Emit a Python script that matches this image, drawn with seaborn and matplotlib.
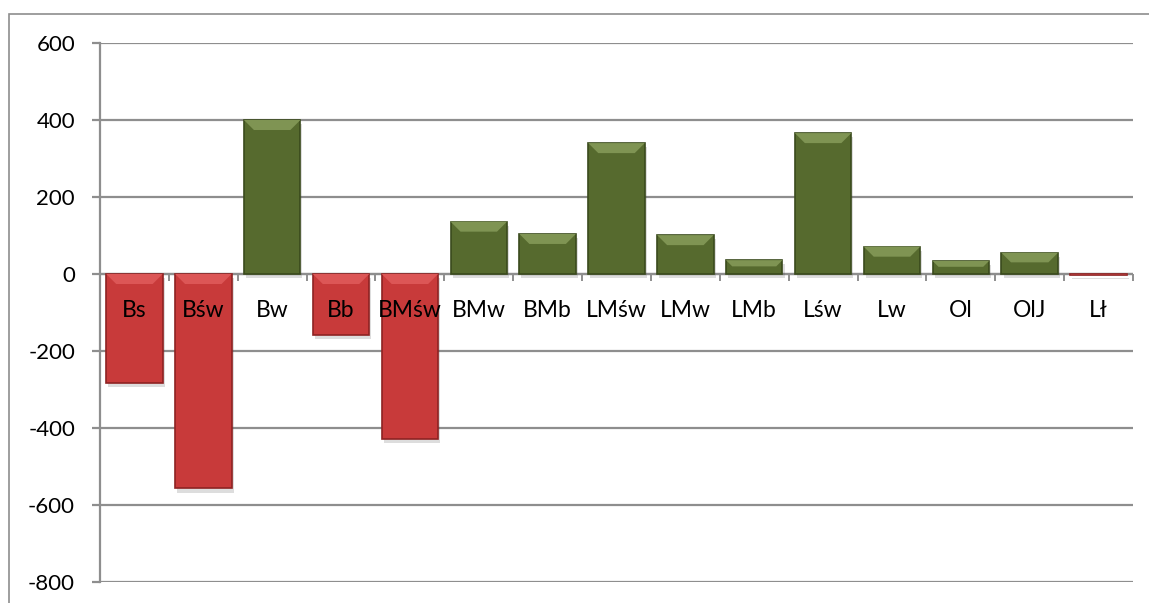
import matplotlib
matplotlib.use("Agg")
import matplotlib.pyplot as plt
import matplotlib.patheffects as pe
from matplotlib.patches import Polygon, Rectangle
from matplotlib.ticker import FixedLocator
import seaborn as sns
import pandas as pd
import numpy as np

categories = ["Bs", "Bśw", "Bw", "Bb", "BMśw", "BMw", "BMb", "LMśw",
              "LMw", "LMb", "Lśw", "Lw", "Ol", "OlJ", "Lł"]
values = [-283, -557, 400, -159, -429, 136, 104, 340, 101, 36, 366, 71, 34, 55, -2]
y_ticks = [-800, -600, -400, -200, 0, 200, 400, 600]

sns.set_theme(style="white")
plt.rcParams['font.family'] = ['Lato', 'DejaVu Sans']

df = pd.DataFrame({"cat": categories, "val": values})
df["sign"] = np.where(df["val"] < 0, "neg", "pos")

W, H = 1149, 603
fig = plt.figure(figsize=(W / 100, H / 100), dpi=100)
ax = fig.add_axes([100 / W, 21 / H, (1133 - 100) / W, (582 - 43) / H])

green = "#566A2E"
red = "#C83A3A"
sns.barplot(data=df, x="cat", y="val", hue="sign", order=categories,
            palette={"neg": red, "pos": green}, dodge=False, legend=False,
            width=0.82, ax=ax, zorder=2, linewidth=1.2, saturation=1)

ax.set_ylim(-800, 600)
ax.set_xlim(-0.5, len(categories) - 0.5)
ax.set_xlabel("")
ax.set_ylabel("")

gray = "#8E8E8E"
for t in y_ticks:
    ax.axhline(t, color=gray, lw=1.6, zorder=0)

ypx = (582 - 43) / 1400.0
xpx = (1133 - 100) / len(categories)
for p in list(ax.patches):
    fc = p.get_facecolor()
    is_green = fc[1] > fc[0]
    edge = "#3A4A1C" if is_green else "#8E2222"
    p.set_edgecolor(edge)
    p.set_path_effects([pe.SimplePatchShadow(offset=(1.5, -3), alpha=0.18, shadow_rgbFace="#444444"),
                        pe.Normal()])
    x, y, w, h = p.get_x(), p.get_y(), p.get_width(), p.get_height()
    top = max(y, y + h)
    hh = abs(h)
    b = min(26.0, hh * 0.45)
    dx = b * ypx / xpx
    light = "#7F9453" if is_green else "#DC5656"
    bev = Polygon([(x, top), (x + w, top), (x + w - dx, top - b), (x + dx, top - b)],
                  closed=True, facecolor=light, edgecolor="none", zorder=2.1)
    ax.add_patch(bev)

for s in ["top", "right"]:
    ax.spines[s].set_visible(False)
ax.spines["left"].set_color(gray)
ax.spines["left"].set_linewidth(1.6)
ax.spines["bottom"].set_position(("data", 0))
ax.spines["bottom"].set_visible(False)

ax.set_yticks(y_ticks)
ax.set_yticklabels([str(t) for t in y_ticks])
ax.tick_params(axis="y", which="major", length=6, width=1.6, color=gray,
               pad=12, labelsize=16, labelcolor="#000000", left=True)

ax.set_xticks(range(len(categories)))
ax.set_xticklabels(categories)
ax.xaxis.set_minor_locator(FixedLocator(np.arange(-0.5, len(categories), 1.0)))
ax.tick_params(axis="x", which="major", length=0, pad=19, labelsize=16.5,
               labelcolor="#000000", bottom=True)
ax.tick_params(axis="x", which="minor", length=5, width=1.4, color=gray, bottom=True)
ax.axhline(0, color=gray, lw=1.6, zorder=1)
ax.xaxis.set_zorder(5)
ax.yaxis.set_zorder(5)

fig.patches.append(Rectangle((9 / W, -0.1), 1.2, (H - 14) / H + 0.1,
                             transform=fig.transFigure, fill=False,
                             edgecolor=gray, lw=1.2, zorder=0))

fig.savefig("out.png", dpi=100)
